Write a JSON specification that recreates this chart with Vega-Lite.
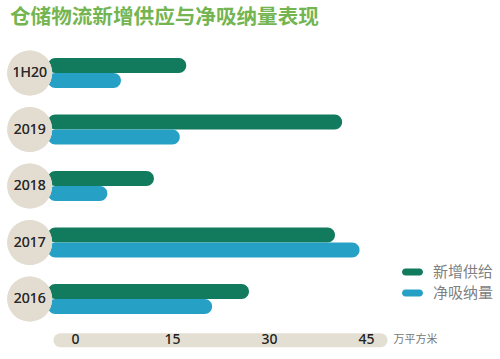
{
  "$schema": "https://vega.github.io/schema/vega-lite/v6.json",
  "width": 320,
  "height": 282.5,
  "autosize": {"type": "none"},
  "padding": {"left": 60, "top": 44.75, "right": 120, "bottom": 31.75},
  "background": "white",
  "title": {
    "text": "仓储物流新增供应与净吸纳量表现",
    "anchor": "start",
    "frame": "group",
    "dx": -50,
    "offset": -4,
    "baseline": "bottom",
    "fontSize": 20.6,
    "fontWeight": "bold",
    "color": "#74b551",
    "font": "Noto Sans CJK SC"
  },
  "config": {"view": {"stroke": null}},
  "data": {
    "values": [
      {"year": "1H20", "series": "新增供给", "value": 17.2},
      {"year": "1H20", "series": "净吸纳量", "value": 7.1},
      {"year": "2019", "series": "新增供给", "value": 41.3},
      {"year": "2019", "series": "净吸纳量", "value": 16.2},
      {"year": "2018", "series": "新增供给", "value": 12.2},
      {"year": "2018", "series": "净吸纳量", "value": 5.0},
      {"year": "2017", "series": "新增供给", "value": 40.2},
      {"year": "2017", "series": "净吸纳量", "value": 44.0},
      {"year": "2016", "series": "新增供给", "value": 26.9},
      {"year": "2016", "series": "净吸纳量", "value": 21.2}
    ]
  },
  "encoding": {
    "y": {
      "field": "year",
      "type": "nominal",
      "sort": ["1H20", "2019", "2018", "2017", "2016"],
      "axis": null,
      "scale": {"paddingInner": 0.469, "paddingOuter": 0.2345}
    }
  },
  "resolve": {"axis": {"x": "independent"}},
  "layer": [
    {
      "mark": {"type": "bar", "cornerRadius": 7.5},
      "encoding": {
        "x": {
          "field": "value",
          "type": "quantitative",
          "scale": {"domain": [-2.32, 47.16], "nice": false, "zero": false},
          "axis": {
            "orient": "bottom",
            "values": [0, 15, 30, 45],
            "domain": true,
            "domainColor": "#e4dfd3",
            "domainWidth": 14,
            "domainCap": "round",
            "ticks": false,
            "labels": false,
            "grid": false,
            "offset": 12.5,
            "title": null
          }
        },
        "x2": {"datum": -4.2},
        "yOffset": {
          "field": "series",
          "type": "nominal",
          "sort": ["新增供给", "净吸纳量"],
          "scale": {"paddingInner": 0, "paddingOuter": 0}
        },
        "color": {
          "field": "series",
          "type": "nominal",
          "sort": ["新增供给", "净吸纳量"],
          "scale": {"domain": ["新增供给", "净吸纳量"], "range": ["#127a5d", "#26a1c5"]},
          "legend": {
            "orient": "none",
            "legendX": 342,
            "legendY": 216.75,
            "title": null,
            "padding": 0,
            "symbolType": "M-0.667,-0.333H0.667A0.333,0.333 0 0 1 0.667,0.333H-0.667A0.333,0.333 0 0 1 -0.667,-0.333Z",
            "symbolSize": 441,
            "symbolStrokeWidth": 0,
            "symbolOpacity": 1,
            "labelOffset": 10,
            "labelFontSize": 15,
            "labelColor": "#808080",
            "labelFont": "Noto Sans CJK SC",
            "rowPadding": 2
          }
        }
      }
    },
    {
      "mark": {"type": "point", "shape": "circle", "filled": true, "size": 2025, "color": "#e3ddd1", "opacity": 1},
      "encoding": {"x": {"datum": -7, "axis": null}}
    },
    {
      "mark": {"type": "text", "fontSize": 14, "font": "Noto Sans", "fontWeight": "normal", "color": "#2b2b2b", "align": "center", "baseline": "middle"},
      "encoding": {"x": {"datum": -7, "axis": null}, "text": {"field": "year"}}
    },
    {
      "mark": {"type": "point", "opacity": 0},
      "encoding": {
        "x": {
          "field": "value",
          "type": "quantitative",
          "axis": {
            "orient": "bottom",
            "values": [0, 15, 30, 45],
            "domain": false,
            "ticks": false,
            "tickSize": 0,
            "grid": false,
            "offset": 12.5,
            "labelPadding": 0,
            "labelBaseline": "middle",
            "labelFontSize": 14,
            "labelFont": "Noto Sans",
            "labelFontWeight": 500,
            "labelColor": "#222222",
            "title": "万平方米",
            "titleX": 333,
            "titleY": 0,
            "titleAlign": "left",
            "titleBaseline": "middle",
            "titleFontSize": 11,
            "titleFontWeight": "normal",
            "titleColor": "#777777",
            "titleFont": "Noto Sans CJK SC"
          }
        }
      }
    }
  ]
}
